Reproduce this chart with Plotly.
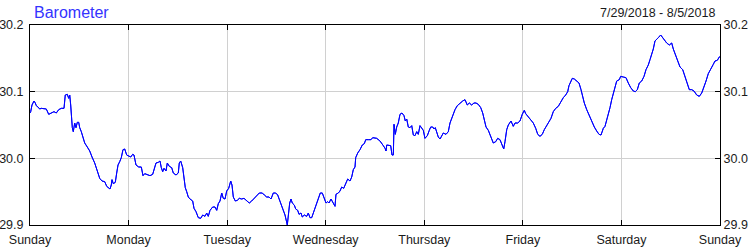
import plotly.graph_objects as go

# Hours since Sunday 7/29/2018 00:00
hours = [0.0, 0.17, 0.49, 0.97, 1.29, 1.53, 1.95, 2.36, 2.75, 3.41, 3.97, 4.55, 5.19, 5.84, 6.40, 6.99, 7.62, 8.28,
         8.59, 9.08, 9.42, 9.67, 9.91, 10.06, 10.30, 10.54, 10.88, 11.20, 11.52, 11.86, 12.10, 12.49, 12.90, 13.32,
         13.95, 14.54, 15.10, 15.75, 16.39, 16.97, 17.53, 18.19, 18.68, 19.16, 19.48, 19.79, 19.97, 20.28, 20.77,
         21.11, 21.43, 21.84, 22.23, 22.64, 23.06, 23.54, 24.03, 24.52, 25.00, 25.32, 25.81, 26.47, 27.10, 27.51,
         27.93, 28.56, 29.22, 29.87, 30.19, 30.68, 31.24, 31.65, 31.97, 32.31, 32.63, 33.11, 33.43, 33.92, 34.50,
         34.89, 35.55, 36.11, 36.35, 36.69, 37.18, 37.50, 37.81, 38.15, 38.54, 38.96, 39.61, 39.93, 40.42, 40.98,
         41.56, 42.05, 42.61, 43.02, 43.41, 43.83, 44.48, 45.04, 45.46, 45.85, 46.26, 46.68, 47.06, 47.48, 47.89,
         48.38, 48.87, 49.18, 49.50, 49.99, 50.47, 50.96, 51.54, 52.10, 52.76, 53.39, 53.98, 54.54, 55.20, 55.83,
         56.00, 56.56, 57.05, 57.63, 58.19, 58.68, 59.24, 59.82, 60.31, 60.87, 61.43, 62.09, 62.65, 62.89, 63.23,
         63.55, 63.86, 64.35, 64.69, 65.18, 65.50, 65.98, 66.30, 66.79, 67.37, 67.76, 68.17, 68.59, 68.98, 69.39,
         69.81, 70.20, 70.68, 71.17, 71.66, 72.07, 72.48, 72.80, 73.29, 73.70, 74.26, 74.50, 75.07, 75.48, 75.89,
         76.38, 76.87, 77.35, 77.91, 78.33, 78.72, 79.13, 79.30, 79.79, 80.35, 80.91, 81.40, 81.74, 82.37, 83.03,
         83.44, 84.41, 85.22, 85.63, 86.02, 86.44, 86.68, 86.85, 87.48, 87.82, 88.14, 88.46, 88.63, 88.94, 89.28,
         89.67, 90.09, 90.57, 91.06, 91.38, 91.72, 92.11, 92.52, 92.94, 93.33, 93.74, 94.16, 94.54, 94.96, 95.37,
         95.76, 96.17, 96.74, 97.22, 97.56, 98.05, 98.37, 98.68, 99.02, 99.41, 99.83, 100.24, 100.63, 101.29,
         101.85, 102.26, 102.68, 103.07, 103.48, 104.04, 104.70, 105.35, 105.91, 106.47, 106.96, 107.54, 108.10,
         108.59, 109.15, 109.74, 110.22, 110.54, 111.03, 111.59, 112.24, 112.80, 113.39, 113.87, 114.43, 114.85,
         115.34, 115.65, 116.07, 116.46, 117.11, 117.67, 118.09, 118.74, 119.30, 119.86, 120.35, 120.69, 121.33,
         121.98, 122.54, 123.13, 123.62, 124.17, 124.73, 125.22, 125.81, 126.37, 126.85, 127.41, 128.00, 128.63,
         129.29, 129.85, 130.43, 130.92, 131.23, 131.72, 132.04, 132.53, 133.11, 133.67, 134.16, 134.48, 134.96,
         135.55, 136.11, 136.77, 137.40, 137.98, 138.54, 139.03, 139.59, 140.00, 140.56, 141.22, 141.63, 142.02,
         142.43, 142.85, 143.48, 143.82, 144.45, 145.11, 145.67, 146.26, 146.89, 147.38, 147.87, 148.35, 148.94,
         149.50, 149.98, 150.54, 150.96, 151.37, 151.76, 152.17, 152.59, 152.98, 153.56, 154.05, 154.61, 155.02,
         155.66, 156.24, 156.63, 157.29, 157.85, 158.26, 158.92, 159.48, 160.04, 160.53, 161.11, 161.67, 162.33,
         162.96, 163.55, 164.11, 164.60, 165.15, 165.74, 166.37, 166.78, 167.34, 167.83, 168.00]

pressure = [30.068, 30.070, 30.080, 30.086, 30.083, 30.079, 30.077, 30.074, 30.075, 30.074, 30.074, 30.066, 30.068,
            30.070, 30.068, 30.073, 30.075, 30.075, 30.095, 30.096, 30.090, 30.095, 30.080, 30.062, 30.046, 30.040,
            30.053, 30.046, 30.054, 30.054, 30.046, 30.040, 30.032, 30.023, 30.017, 30.011, 30.002, 29.993, 29.981,
            29.970, 29.966, 29.965, 29.958, 29.955, 29.954, 29.960, 29.968, 29.962, 29.964, 29.978, 29.990, 29.995,
            30.001, 30.013, 30.014, 30.005, 30.004, 30.002, 30.006, 30.005, 29.990, 29.987, 29.987, 29.974, 29.977,
            29.975, 29.974, 29.976, 29.984, 29.993, 29.994, 29.996, 29.986, 29.980, 29.985, 29.981, 29.993, 29.988,
            29.986, 29.978, 29.975, 29.978, 29.993, 29.996, 29.986, 29.972, 29.956, 29.950, 29.942, 29.939, 29.936,
            29.925, 29.920, 29.911, 29.910, 29.915, 29.913, 29.918, 29.913, 29.922, 29.927, 29.927, 29.922, 29.932,
            29.936, 29.948, 29.940, 29.939, 29.951, 29.955, 29.966, 29.960, 29.942, 29.936, 29.937, 29.940, 29.939,
            29.940, 29.937, 29.933, 29.936, 29.940, 29.944, 29.948, 29.948, 29.948, 29.945, 29.942, 29.942, 29.939,
            29.948, 29.948, 29.945, 29.935, 29.927, 29.915, 29.900, 29.920, 29.933, 29.939, 29.933, 29.930, 29.924,
            29.922, 29.916, 29.918, 29.912, 29.915, 29.913, 29.918, 29.911, 29.911, 29.918, 29.925, 29.935, 29.940,
            29.948, 29.948, 29.940, 29.933, 29.935, 29.933, 29.939, 29.935, 29.928, 29.946, 29.948, 29.951, 29.957,
            29.955, 29.963, 29.969, 29.966, 29.972, 29.983, 29.987, 30.001, 30.008, 30.013, 30.020, 30.022, 30.028,
            30.028, 30.028, 30.031, 30.030, 30.026, 30.023, 30.019, 30.015, 30.011, 30.020, 30.020, 30.019, 30.005,
            30.005, 30.051, 30.036, 30.047, 30.053, 30.066, 30.068, 30.064, 30.056, 30.059, 30.047, 30.046, 30.049,
            30.035, 30.034, 30.040, 30.036, 30.049, 30.045, 30.042, 30.030, 30.034, 30.042, 30.047, 30.047, 30.044,
            30.046, 30.040, 30.032, 30.029, 30.035, 30.038, 30.036, 30.040, 30.053, 30.060, 30.066, 30.073, 30.079,
            30.083, 30.086, 30.088, 30.080, 30.083, 30.080, 30.083, 30.083, 30.081, 30.076, 30.068, 30.060, 30.047,
            30.042, 30.030, 30.023, 30.025, 30.030, 30.028, 30.020, 30.014, 30.025, 30.043, 30.050, 30.056, 30.048,
            30.053, 30.053, 30.056, 30.066, 30.072, 30.067, 30.062, 30.058, 30.053, 30.045, 30.036, 30.033, 30.036,
            30.043, 30.050, 30.055, 30.060, 30.070, 30.075, 30.078, 30.086, 30.091, 30.095, 30.100, 30.109, 30.115,
            30.120, 30.119, 30.116, 30.113, 30.103, 30.094, 30.083, 30.073, 30.065, 30.055, 30.047, 30.041, 30.036,
            30.035, 30.045, 30.048, 30.060, 30.076, 30.088, 30.098, 30.107, 30.116, 30.118, 30.123, 30.122, 30.121,
            30.113, 30.106, 30.101, 30.100, 30.103, 30.113, 30.116, 30.123, 30.133, 30.140, 30.148, 30.155, 30.164,
            30.176, 30.178, 30.181, 30.185, 30.181, 30.178, 30.173, 30.170, 30.173, 30.164, 30.153, 30.146, 30.137,
            30.133, 30.122, 30.113, 30.103, 30.103, 30.101, 30.095, 30.093, 30.098, 30.107, 30.116, 30.127, 30.135,
            30.141, 30.146, 30.147, 30.152, 30.153]

day_ticks = [0, 24, 48, 72, 96, 120, 144, 168]
day_labels = ["Sunday", "Monday", "Tuesday", "Wednesday", "Thursday", "Friday", "Saturday", "Sunday"]
y_ticks = [29.9, 30.0, 30.1, 30.2]
y_labels = ["29.9", "30.0", "30.1", "30.2"]
title_text = "Barometer"
range_text = "7/29/2018 - 8/5/2018"

FONT = "Liberation Sans, Arial, sans-serif"
line_style = dict(color="#0000ff", width=1)

fig = go.Figure()
fig.add_trace(go.Scatter(x=hours, y=pressure, mode="lines", line=line_style,
                         hoverinfo="skip", showlegend=False))
fig.add_trace(go.Scatter(x=hours, y=pressure, mode="lines", line=line_style,
                         yaxis="y2", hoverinfo="skip", showlegend=False))

axis_common = dict(
    showline=True, linecolor="black", linewidth=1,
    ticks="inside", ticklen=5, tickcolor="black", tickwidth=1,
    tickfont=dict(family=FONT, size=12.5, color="#1a1a1a"),
    zeroline=False, automargin=False,
)

fig.update_layout(
    width=750, height=250,
    margin=dict(l=30, r=30, t=25, b=25),
    paper_bgcolor="white", plot_bgcolor="white",
    xaxis=dict(range=[0, 168], tickvals=day_ticks, ticktext=day_labels,
               showgrid=True, gridcolor="#d0d0d0", gridwidth=1, mirror="ticks",
               ticklabelstandoff=3, **axis_common),
    yaxis=dict(range=[29.9, 30.2], tickvals=y_ticks, ticktext=y_labels,
               showgrid=True, gridcolor="#d0d0d0", gridwidth=1, mirror="ticks",
               ticklabelstandoff=3, **axis_common),
    yaxis2=dict(range=[29.9, 30.2], tickvals=y_ticks, ticktext=y_labels,
                overlaying="y", side="right", showgrid=False, **axis_common),
    annotations=[
        dict(text=title_text, xref="paper", yref="paper", x=0.003, y=1.065,
             xanchor="left", yanchor="middle", showarrow=False,
             font=dict(family=FONT, size=16, color="#3333ff")),
        dict(text=range_text, xref="paper", yref="paper", x=0.9957, y=1.06,
             xanchor="right", yanchor="middle", showarrow=False,
             font=dict(family=FONT, size=12.5, color="#1a1a1a")),
    ],
)

fig.write_html("out.html")
